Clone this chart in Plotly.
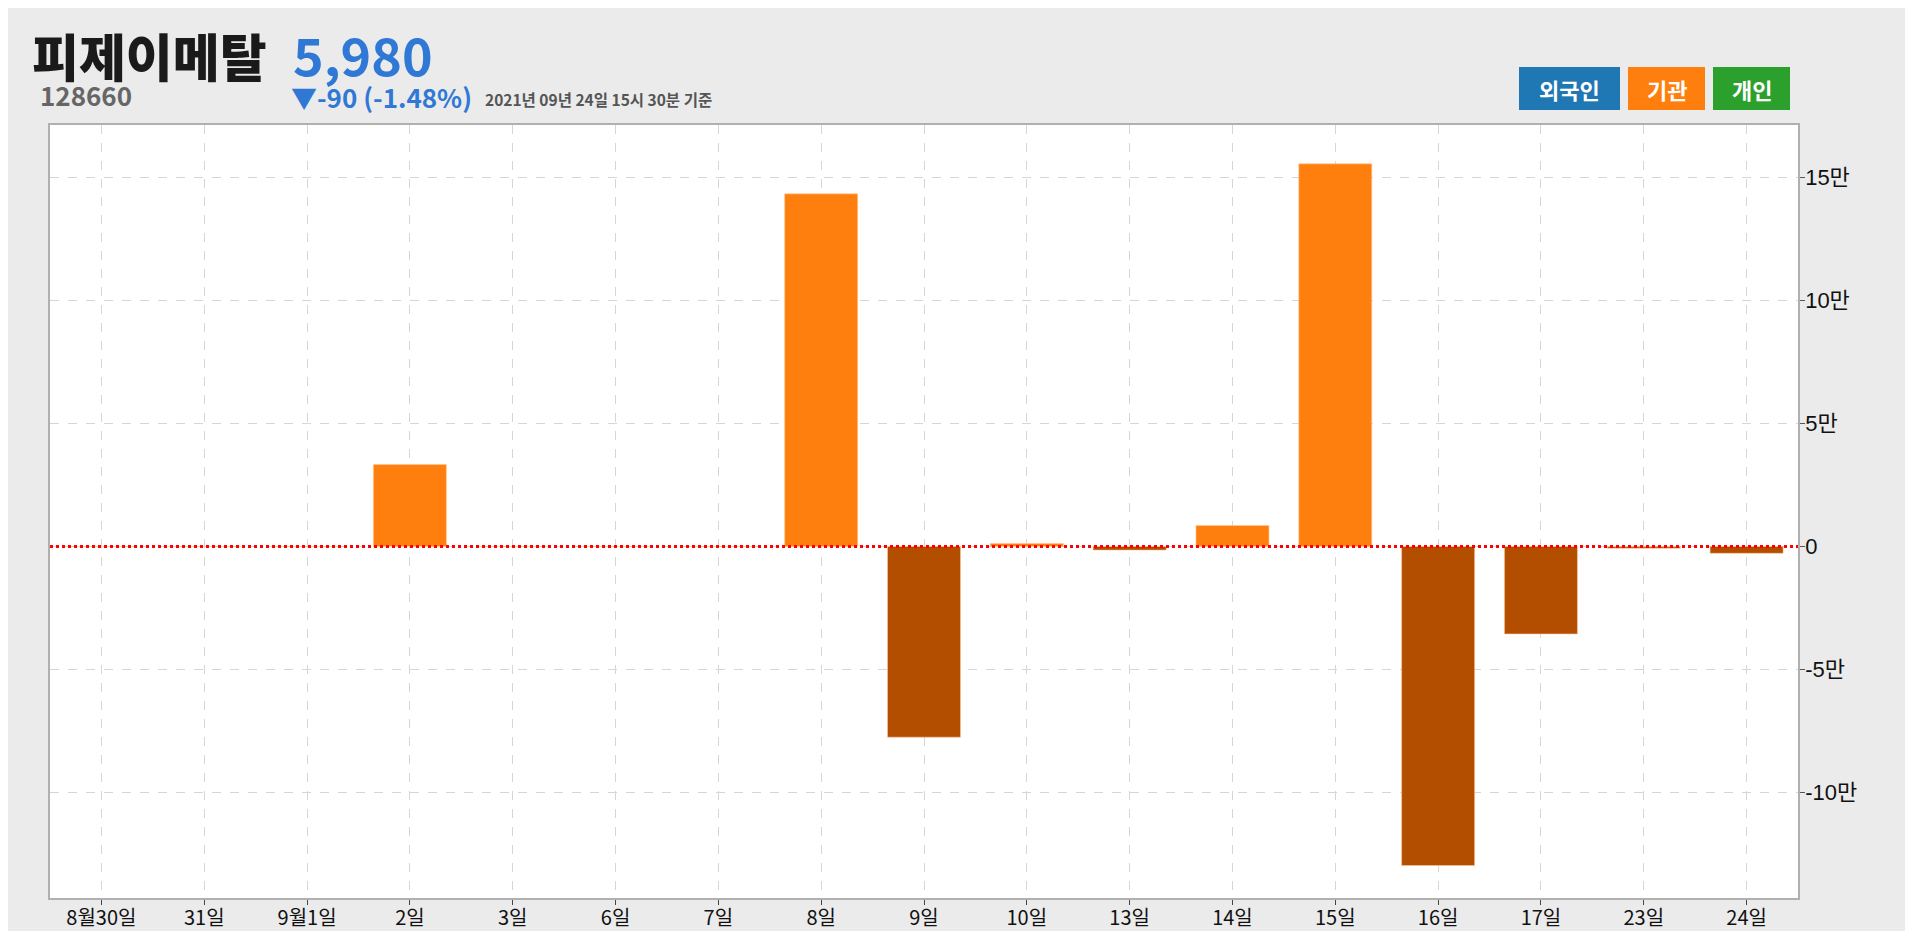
import plotly.graph_objects as go

# ---- data ----
dates = ["8월30일", "31일", "9월1일", "2일", "3일", "6일", "7일", "8일", "9일",
         "10일", "13일", "14일", "15일", "16일", "17일", "23일", "24일"]
inst_values = [0, 0, 0, 33300, 0, 0, 0, 143400, -77600,
               1200, -1500, 8500, 155600, -129800, -35600, -700, -2800]
ytick_vals = [-100000, -50000, 0, 50000, 100000, 150000]
ytick_text = ["-10만", "-5만", "0", "5만", "10만", "15만"]
stock_name = "피제이메탈"
stock_code = "128660"
price_text = "5,980"
change_text = "▼-90 (-1.48%)"
time_text = "2021년 09년 24일 15시 30분 기준"
buttons = ["외국인", "기관", "개인"]
button_colors = ["#1f77b4", "#ff7f0e", "#2ca02c"]

POS = "#ff7f0e"
NEG = "#b34d00"

OFF = 8  # page body margin
W, H = 1897, 923
# plot area in screen pixels
SL, ST, SR, SB = 50, 125, 1798, 898
L, T = SL - OFF, ST - OFF
R, B = W - (SR - OFF), H - (SB - OFF)
pw, ph = W - L - R, H - T - B


def px(x):
    return (x - OFF - L) / pw


def py(y):
    return (H - B - (y - OFF)) / ph


colors = [POS if v >= 0 else NEG for v in inst_values]

fig = go.Figure()
fig.add_trace(go.Bar(
    x=list(range(len(dates))), y=inst_values, width=0.71,
    marker=dict(color=colors, line=dict(color="rgba(255,200,150,0.6)", width=1)),
    showlegend=False, hoverinfo="x+y"))

fig.add_shape(type="line", xref="paper", yref="y", x0=0, x1=1, y0=0, y1=0,
              line=dict(color="red", width=3, dash="dot"), layer="above")

CJK = "Noto Sans CJK KR"

fig.update_layout(
    width=W, height=H,
    margin=dict(l=L, r=R, t=T, b=B, pad=0, autoexpand=False),
    paper_bgcolor="#ebebeb", plot_bgcolor="white",
    xaxis=dict(
        range=[-0.5, 16.5], tickmode="array",
        tickvals=list(range(len(dates))), ticktext=dates,
        showgrid=True, gridcolor="#d6d6d6", griddash="dash", gridwidth=1,
        showline=True, linecolor="#b0b0b0", linewidth=1.5, mirror=True,
        ticks="outside", ticklen=5, tickcolor="#444",
        ticklabelstandoff=-4, automargin=False,
        tickfont=dict(family=CJK, size=20, color="#111"),
        zeroline=False,
    ),
    yaxis=dict(
        range=[-143000, 171400], side="right",
        tickmode="array", tickvals=ytick_vals, ticktext=ytick_text,
        showgrid=True, gridcolor="#d6d6d6", griddash="dash", gridwidth=1,
        showline=True, linecolor="#b0b0b0", linewidth=1.5, mirror=True,
        ticks="outside", ticklen=5, tickcolor="#555",
        ticklabelstandoff=-4, automargin=False,
        tickfont=dict(family="Liberation Sans, " + CJK, size=22, color="#111"),
        zeroline=False,
    ),
)

ann = []
ann.append(dict(text=stock_name, x=px(30), y=py(55), xanchor="left", yanchor="middle",
                font=dict(family=CJK, size=51, color="#1a1a1a", weight=900)))
ann.append(dict(text=price_text, x=px(291), y=py(53), xanchor="left", yanchor="middle",
                font=dict(family=CJK, size=52, color="#2f78d6", weight=700)))
ann.append(dict(text=stock_code, x=px(38), y=py(95), xanchor="left", yanchor="middle",
                font=dict(family=CJK, size=26, color="#666", weight=700)))
ann.append(dict(text=change_text, x=px(289), y=py(97), xanchor="left", yanchor="middle",
                font=dict(family=CJK, size=26, color="#2f78d6", weight=700)))
ann.append(dict(text=time_text, x=px(483), y=py(99), xanchor="left", yanchor="middle",
                font=dict(family=CJK, size=15.5, color="#555", weight=700)))

bx = [(1519, 1620), (1628, 1705), (1713, 1790)]
by = (67, 110)
for (x0, x1), label, col in zip(bx, buttons, button_colors):
    fig.add_shape(type="rect", xref="paper", yref="paper",
                  x0=px(x0), x1=px(x1), y0=py(by[1]), y1=py(by[0]),
                  fillcolor=col, line=dict(width=0))
    ann.append(dict(text=label, x=px((x0 + x1) / 2), y=py((by[0] + by[1]) / 2),
                    xanchor="center", yanchor="middle",
                    font=dict(family=CJK, size=22, color="white", weight=700)))

for a in ann:
    a.update(xref="paper", yref="paper", showarrow=False)
fig.update_layout(annotations=ann)

fig.write_html("out.html")
